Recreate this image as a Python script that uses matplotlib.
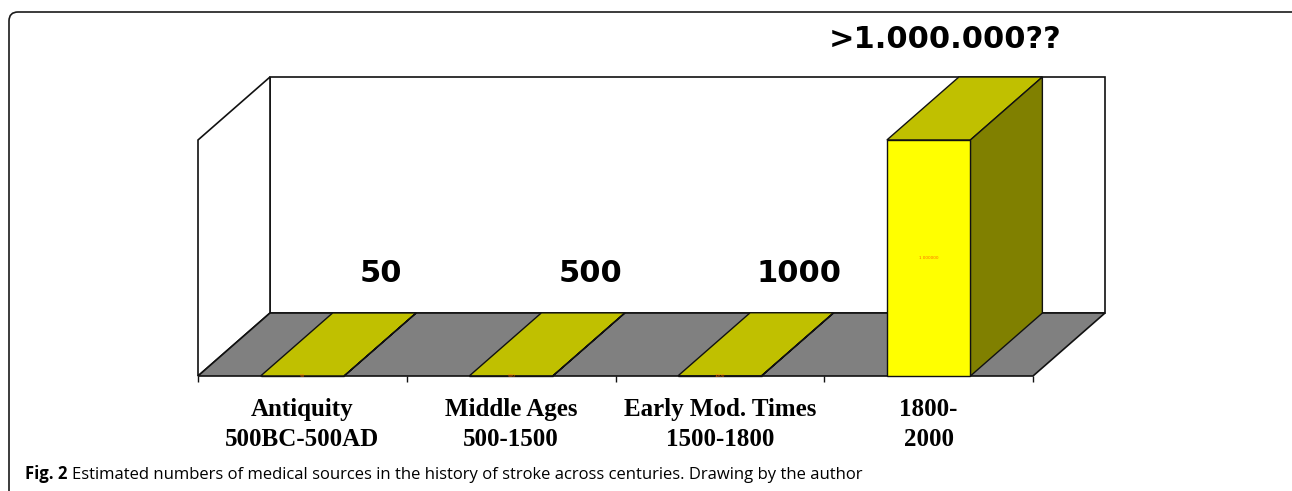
import matplotlib
matplotlib.use("Agg")
import matplotlib.pyplot as plt
from matplotlib.patches import Polygon, FancyBboxPatch
from matplotlib.transforms import ScaledTranslation, IdentityTransform

# ---- data ----
categories = ["Antiquity\n500BC-500AD", "Middle Ages\n500-1500",
              "Early Mod. Times\n1500-1800", "1800-\n2000"]
values = [50, 500, 1000, 1000000]
value_labels = ["50", "500", "1000", ">1.000.000??"]
inner_labels = ["50", "500", "1000", "1 000000"]
y_max = 1000000

W, H = 1292, 491
fig = plt.figure(figsize=(W / 100, H / 100), dpi=100)
ax = fig.add_axes([198 / W, (H - 376) / H, (1033 - 198) / W, (376 - 140) / H])
n = len(categories)
ax.set_xlim(0, n)
ax.set_ylim(0, y_max)
for s in ax.spines.values():
    s.set_visible(False)

# depth offset of the pseudo-3D box
depth = ScaledTranslation(0.72, 0.63, fig.dpi_scale_trans)
off = ax.transData + depth
inv = ax.transData.inverted()


def back(x, y):
    return tuple(inv.transform(off.transform((x, y))))


edge = "#111111"
# back wall
ax.add_patch(Polygon([back(0, 0), back(n, 0), back(n, y_max), back(0, y_max)],
                     closed=True, facecolor="white", edgecolor=edge, lw=1.2,
                     clip_on=False, zorder=0))
# left wall
ax.add_patch(Polygon([(0, 0), (0, y_max), back(0, y_max), back(0, 0)],
                     closed=True, facecolor="white", edgecolor=edge, lw=1.2,
                     clip_on=False, zorder=0.5))
# floor
ax.add_patch(Polygon([(0, 0), (n, 0), back(n, 0), back(0, 0)],
                     closed=True, facecolor="#808080", edgecolor=edge, lw=1.2,
                     clip_on=False, zorder=1))

centers = [i + 0.5 for i in range(n)]
bw = 0.4
for c, v in zip(centers, values):
    x0, x1 = c - bw / 2, c + bw / 2
    # top face
    ax.add_patch(Polygon([(x0, v), (x1, v), back(x1, v), back(x0, v)],
                         closed=True, facecolor="#C0C000", edgecolor=edge,
                         lw=1.0, clip_on=False, zorder=2))
    # side face
    ax.add_patch(Polygon([(x1, 0), (x1, v), back(x1, v), back(x1, 0)],
                         closed=True, facecolor="#808000", edgecolor=edge,
                         lw=1.0, clip_on=False, zorder=2))

ax.bar(centers, values, width=bw, color="#FFFF00", edgecolor=edge, lw=1.0,
       zorder=3, clip_on=False)

# tiny inner data labels
for c, v, t in zip(centers, values, inner_labels):
    ax.text(c, v / 2, t, ha="center", va="center", fontsize=3,
            color="#FF6A00", zorder=4)

# value labels above bars
for i, (c, v, t) in enumerate(zip(centers, values, value_labels)):
    if i < n - 1:
        dxp, dyp = 79, 102
    else:
        dxp, dyp = 17, 100
    ax.annotate(t, xy=(c, v), xytext=(dxp * 0.72, dyp * 0.72),
                textcoords="offset points", ha="center", va="center",
                fontsize=22, fontweight="bold", family="DejaVu Sans",
                color="black", zorder=5, annotation_clip=False)

# ticks
ax.set_xticks(range(n + 1))
ax.set_xticklabels([""] * (n + 1))
ax.tick_params(axis="x", which="major", direction="out", length=4.5,
               width=1.0, color=edge)
ax.set_xticks(centers, minor=True)
ax.set_xticklabels(categories, minor=True, family="Liberation Serif",
                   fontweight="bold", fontsize=18, linespacing=1.4)
ax.tick_params(axis="x", which="minor", length=0, pad=16)
ax.set_yticks([])

# caption
r = fig.canvas.get_renderer()
cy = (H - 479) / H
t1 = fig.text(25 / W, cy, "Fig. 2", fontsize=12, fontweight="bold",
              family="Open Sans", va="baseline", ha="left")
bb = t1.get_window_extent(r)
fig.text((bb.x1 + 5) / W, cy,
         "Estimated numbers of medical sources in the history of stroke across centuries. Drawing by the author",
         fontsize=12, family="Open Sans", va="baseline", ha="left")

# outer rounded frame
fig.add_artist(FancyBboxPatch((9, -30), 1300, (H - 12) + 30,
                              boxstyle="round,pad=0,rounding_size=9",
                              facecolor="none", edgecolor="#1a1a1a", lw=1.2,
                              transform=IdentityTransform()))

fig.savefig("out.png", dpi=100)
